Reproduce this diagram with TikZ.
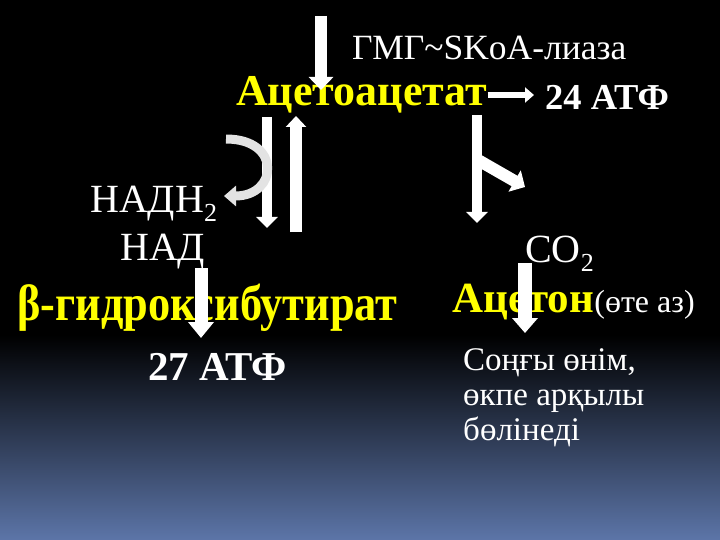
\documentclass[tikz,border=0pt]{standalone}
\usepackage{fontspec}
\setmainfont{Liberation Serif}
\usepackage{tikz}
\usetikzlibrary{arrows.meta}

\definecolor{slidesky}{RGB}{92,117,168}
\definecolor{acidyellow}{RGB}{255,255,0}
\newcommand{\lowidx}[1]{\raisebox{-9pt}{\fontsize{26}{26}\selectfont #1}}

\begin{document}
\begin{tikzpicture}[x=1pt, y=-1pt,
    txt_node/.style={anchor=base west, inner sep=0pt, text=white, font=\fontsize{40}{40}\selectfont},
    atp_node/.style={anchor=base west, inner sep=0pt, text=white, font=\fontsize{41}{41}\selectfont\bfseries},
    acid_node/.style={anchor=base west, inner sep=0pt, text=acidyellow, font=\fontsize{43}{43}\selectfont\bfseries},
    block_arrow/.style n args={3}{draw=white, line width=#1, -{Triangle[width=#2, length=#3]}}]

    % background
    \fill[black] (0, 0) rectangle (720, 540);
    \shade[top color=black, bottom color=slidesky] (0, 335) rectangle (720, 540);
    \useasboundingbox (0, 0) rectangle (720, 540);

    \node[txt_node, font=\fontsize{35.5}{36}\selectfont] (lyase) at (352, 60) {ГМГ\textasciitilde SKoA-лиаза};
    \node[acid_node, font=\fontsize{44}{44}\selectfont\bfseries] (acac) at (236, 106) {Ацетоацетат};
    \node[atp_node, font=\fontsize{36.5}{37}\selectfont\bfseries] (atp24) at (545, 110) {24 АТФ};
    \node[txt_node] (nadh) at (90, 213) {НАДН\lowidx{2}};
    \node[txt_node] (nad) at (120, 260) {НАД};
    \node[acid_node, font=\fontsize{51}{51}\selectfont\bfseries] (bhb) at (17, 320) {\scalebox{0.87}[1]{β-гидроксибутират}};
    \node[txt_node] (co2) at (525, 262) {СО\lowidx{2}};
    \node[acid_node] (acetone) at (452, 312) {Ацетон};
    \node[txt_node, font=\fontsize{32}{32}\selectfont, anchor=base west] (little) at (acetone.base east) {(өте аз)};
    \node[atp_node] (atp27) at (148, 380) {27 АТФ};
    \node[txt_node, font=\fontsize{33}{35}\selectfont, anchor=north west, align=left] (final) at (463, 348)
        {Соңғы өнім,\\ өкпе арқылы\\ бөлінеді};

    % arrow ends
    \coordinate (c1) at (321, 16);
    \coordinate (c2) at (321, 90);
    \coordinate (c3) at (267, 117);
    \coordinate (c4) at (267, 228);
    \coordinate (c5) at (296, 232);
    \coordinate (c6) at (296, 116);
    \coordinate (c7) at (226, 139);
    \coordinate (c8) at (224, 196);
    \coordinate (c9) at (477, 115);
    \coordinate (c10) at (477, 223);
    \coordinate (c11) at (478, 160);
    \coordinate (c12) at (525, 187);
    \coordinate (c13) at (201, 268);
    \coordinate (c14) at (201, 338);
    \coordinate (c15) at (525, 263);
    \coordinate (c16) at (525, 333);

    \draw[block_arrow={12pt}{24pt}{13pt}] (c1) -- (c2);
    \draw[block_arrow={6pt}{15pt}{9pt}, shorten >=11pt] (acac.east |- 0, 95) -- (atp24.west |- 0, 95);
    \draw[block_arrow={10pt}{21pt}{11pt}] (c3) -- (c4);
    \draw[block_arrow={12pt}{20pt}{11pt}] (c5) -- (c6);
    \draw[block_arrow={9pt}{20pt}{12pt}, draw=white!78!gray] (c7) .. controls (282, 139) and (278, 196) .. (c8);
    \draw[block_arrow={10pt}{21pt}{11pt}] (c9) -- (c10);
    \draw[block_arrow={12pt}{24pt}{12pt}] (c11) -- (c12);
    \draw[block_arrow={13pt}{25pt}{16pt}] (c13) -- (c14);
    \draw[block_arrow={14pt}{25pt}{15pt}] (c15) -- (c16);

\end{tikzpicture}
\end{document}
